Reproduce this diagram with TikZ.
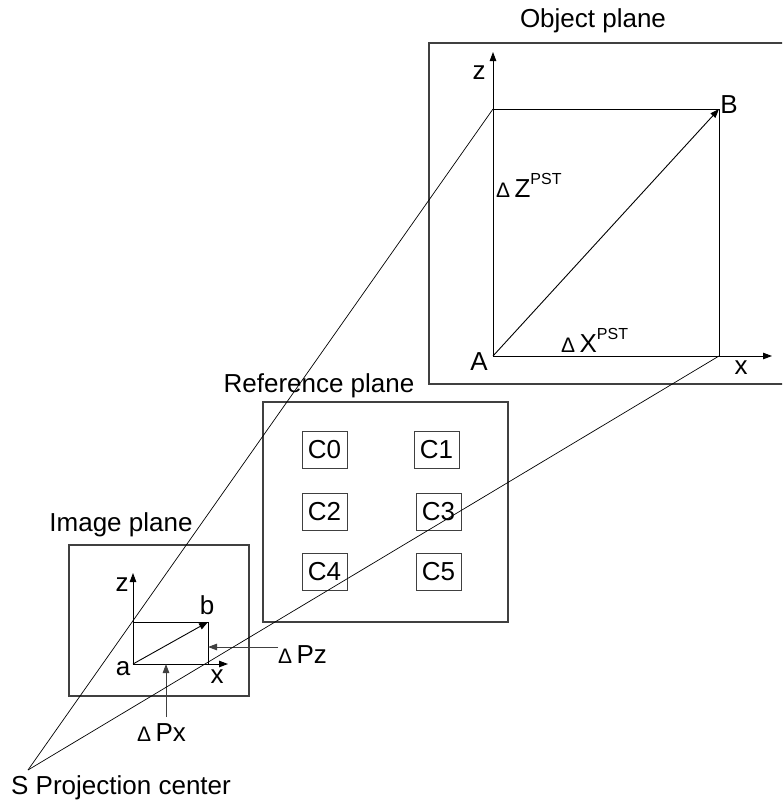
\documentclass[tikz,border=0pt]{standalone}
\usepackage{fontspec}
\setmainfont{Liberation Sans}
\usetikzlibrary{arrows.meta,positioning}
\definecolor{FrameGray}{HTML}{404040}
\newcommand{\dlt}{{\fontsize{21}{21}\selectfont Δ}\,}
\newcommand{\pst}{\raisebox{12.5pt}{\fontsize{16}{16}\selectfont PST}}

\begin{document}
\begin{tikzpicture}[x=1pt, y=-1pt,
    font=\fontsize{26}{30}\selectfont,
    plane/.style={draw=FrameGray, line width=1.1pt, inner sep=0pt},
    cbox/.style={draw=FrameGray, line width=0.9pt, minimum width=45pt, minimum height=37pt, inner sep=0pt},
    axis/.style={-{Triangle[length=9pt,width=6.5pt]}, line width=0.9pt},
    hint/.style={-{Triangle[length=9pt,width=6.5pt]}, line width=0.9pt, draw=FrameGray},
    ray/.style={line width=0.7pt},
    lbl/.style={inner sep=0pt}
]
\clip (0,0) rectangle (782,806);

% planes
\node[plane, minimum width=361pt, minimum height=341pt] (obj) at (609.5,213.5) {};
\node[plane, minimum width=245pt, minimum height=220pt] (ref) at (385.5,512) {};
\node[plane, minimum width=180pt, minimum height=151pt] (img) at (159,620.5) {};

\node[lbl] (objname) at (593,21) {Object plane};
\node[lbl] (refname) at (319,386) {Reference plane};
\node[lbl] (imgname) at (121,525) {Image plane};

% control points
\node[cbox] (c0) at (324.5,449.5) {C0};
\node[cbox] (c1) at (436.5,449.5) {C1};
\node[cbox] (c2) at (324.5,512) {C2};
\node[cbox] (c3) at (438.5,512) {C3};
\node[cbox] (c4) at (324.5,572) {C4};
\node[cbox] (c5) at (438.5,572) {C5};

% object plane
\coordinate (A) at (493,356);
\coordinate (B) at (719,109);
\coordinate (Atop) at (493,109);
\coordinate (Bbot) at (719,356);
\coordinate (objz) at (493,52);
\coordinate (objx) at (772,356);
\draw[line width=0.9pt] (Atop) -- (B) -- (Bbot);
\draw[axis] (A) -- (objz);
\draw[axis] (A) -- (objx);
\draw[axis] (A) -- (B);
\node[lbl] (lblA) at (479,362) {A};
\node[lbl] (lblB) at (729,105) {B};
\node[lbl] (lblz) at (479,73) {z};
\node[lbl] (lblx) at (741,368) {x};
\node[lbl, anchor=base west] (dz) at (496,197) {\dlt Z\pst};
\node[lbl, anchor=base west] (dx) at (561,352) {\dlt X\pst};

% image plane
\coordinate (a) at (133,664);
\coordinate (b) at (208,622);
\coordinate (atop) at (133,622);
\coordinate (bbot) at (208,664);
\coordinate (imgz) at (133,573);
\coordinate (imgx) at (228,664);
\draw[line width=0.9pt] (atop) -- (b) -- (bbot);
\draw[axis] (a) -- (imgz);
\draw[axis] (a) -- (imgx);
\draw[axis] (a) -- (b);
\node[lbl] (lbla) at (123,669) {a};
\node[lbl] (lblb) at (207,605) {b};
\node[lbl] (lblzi) at (122,585) {z};
\node[lbl] (lblxi) at (217,677) {x};

\coordinate (pzfrom) at (278,647);
\coordinate (pzto) at (208,647);
\coordinate (pxfrom) at (166,717);
\coordinate (pxto) at (166,664);
\draw[hint] (pzfrom) -- (pzto);
\draw[hint] (pxfrom) -- (pxto);
\node[lbl, anchor=base west] (dpz) at (278,663) {\dlt Pz};
\node[lbl, anchor=base west] (dpx) at (137,741) {\dlt Px};

% projection rays
\coordinate (S) at (28,770);
\draw[ray] (S) -- (Atop);
\draw[ray] (S) -- (Bbot);
\node[lbl, anchor=west] (sname) at (11,788) {S Projection center};
\end{tikzpicture}
\end{document}
